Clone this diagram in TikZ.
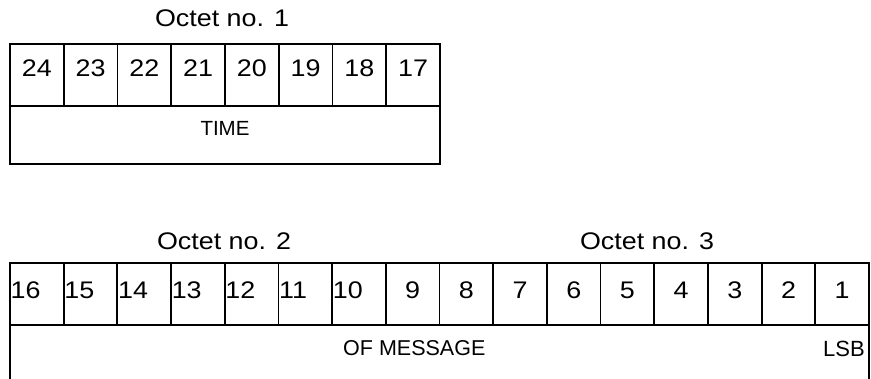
\documentclass[tikz,border=0pt]{standalone}
\usepackage{fontspec}
\setmainfont{Liberation Sans}
\newfontfamily\widesans{Liberation Sans}[FakeStretch=1.12]
\begin{document}
\begin{tikzpicture}[x=1pt,y=-1pt,
  frame/.style={line width=1.8pt},
  bignum/.style={font=\widesans\fontsize{24}{28}\selectfont, inner sep=0pt, anchor=base},
  lbl/.style={font=\fontsize{21.5}{25}\selectfont, inner sep=0pt, anchor=base},
]
\useasboundingbox (0,0) rectangle (871,378);
% ---- Octet no. 1 ----
\node[bignum] (oct1) at (222,26.7) {Octet no. 1};
\draw[frame] (10,44) rectangle (440,164);
\draw[frame] (10,106) -- (440,106);
\foreach \k in {1,...,7} \draw[frame] ({10+53.75*\k},44) -- ({10+53.75*\k},106);
\foreach \n [count=\k from 0] in {24,23,...,17}
  \node[bignum] (t\n) at ({10+53.75*(\k+0.5)},76.7) {\n};
\node[lbl, font=\fontsize{20.5}{24}\selectfont] (time) at (225,135.7) {TIME};
% ---- Octets no. 2 and 3 ----
\node[bignum] (oct2) at (224,249.3) {Octet no. 2};
\node[bignum] (oct3) at (647,249.3) {Octet no. 3};
\draw[frame] (10,382) -- (10,262.7) -- (869,262.7) -- (869,382);
\draw[frame] (10,325.3) -- (869,325.3);
\foreach \k in {1,...,15} \draw[frame] ({10+53.69*\k},262.7) -- ({10+53.69*\k},325.3);
\foreach \n [count=\k from 0] in {16,15,...,10}
  \node[bignum, anchor=base west] (b\n) at ({10+53.69*\k+0.5},298.3) {\n};
\foreach \n [count=\k from 7] in {9,8,...,1}
  \node[bignum] (b\n) at ({10+53.69*(\k+0.5)},298.3) {\n};
\node[lbl, anchor=base west] (msg) at (343,355) {OF MESSAGE};
\node[lbl, font=\fontsize{22}{26}\selectfont, anchor=base east] (lsb) at (865,356) {LSB};
\end{tikzpicture}
\end{document}
